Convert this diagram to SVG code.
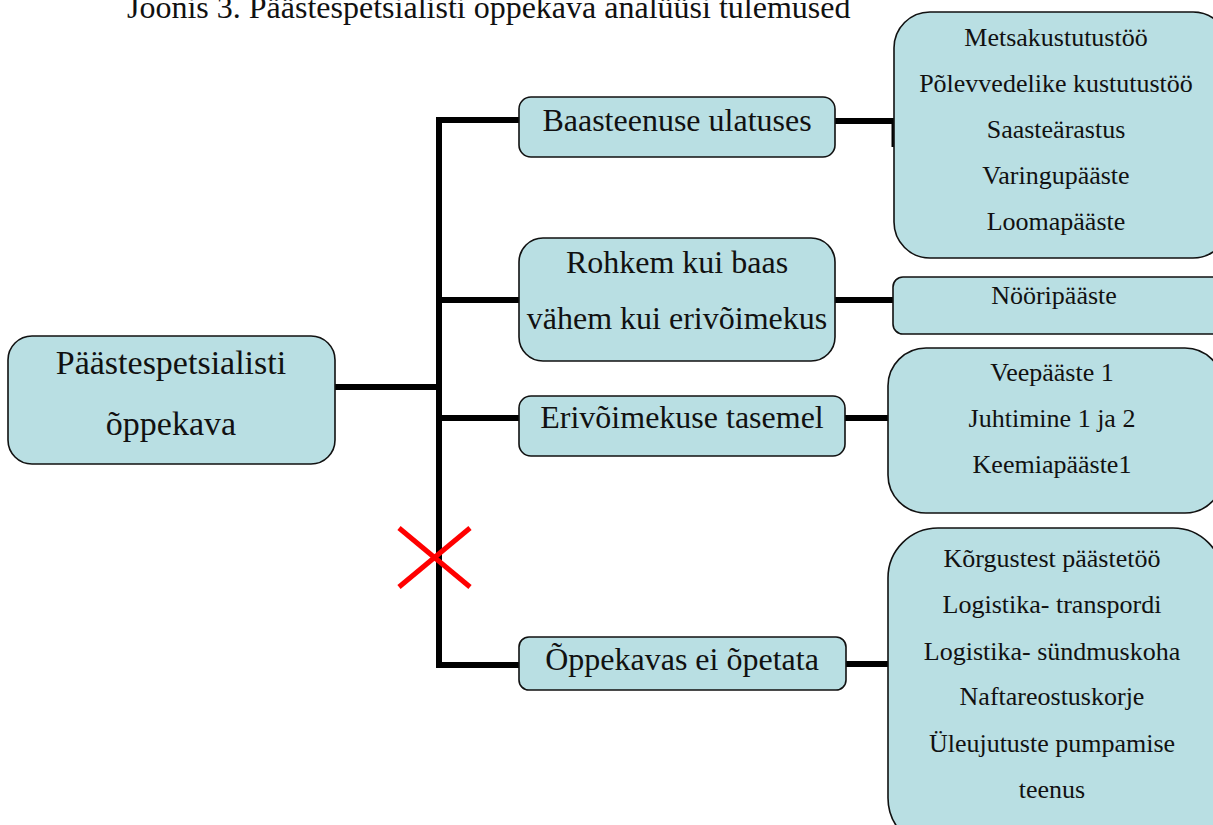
<svg xmlns="http://www.w3.org/2000/svg" width="1213" height="825" viewBox="0 0 1213 825">
<style>
.box{fill:#b9dfe3;stroke:#111;stroke-width:1.6}
.t{font-family:"Liberation Serif","Times New Roman",serif;fill:#111;text-anchor:middle}
.f34{font-size:34px}
.f32{font-size:32px}
.f26{font-size:26px}
.ln{stroke:#000;stroke-width:6;fill:none}
</style>
<rect width="1213" height="825" fill="#fff"/>
<text x="127" y="18" font-family="Liberation Serif, Times New Roman, serif" font-size="32" fill="#111">Joonis 3. Päästespetsialisti õppekava analüüsi tulemused</text>
<g id="connectors">
<polyline class="ln" points="519,120 439,120 439,665 519,665"/>
<line class="ln" x1="335" y1="387" x2="439" y2="387"/>
<line class="ln" x1="439" y1="300" x2="519" y2="300"/>
<line class="ln" x1="439" y1="418" x2="519" y2="418"/>
<line class="ln" x1="835" y1="121" x2="893" y2="121"/>
<line stroke="#000" stroke-width="3" x1="893" y1="118" x2="893" y2="147"/>
<line class="ln" x1="835" y1="300" x2="893" y2="300"/>
<line class="ln" x1="845" y1="418" x2="888" y2="418"/>
<line class="ln" x1="846" y1="664" x2="888" y2="664"/>
<g id="cross" stroke="#ff0000" stroke-width="5">
<line x1="399" y1="528" x2="470" y2="587"/>
<line x1="470" y1="528" x2="399" y2="587"/>
</g>
</g>
<g id="root">
<rect class="box" x="8" y="336" width="327" height="128" rx="24"/>
<text class="t f34" x="171" y="374">Päästespetsialisti</text>
<text class="t f34" x="171" y="435">õppekava</text>
</g>
<g id="baas">
<rect class="box" x="519" y="97" width="316" height="60" rx="12"/>
<text class="t f32" x="677" y="131">Baasteenuse ulatuses</text>
</g>
<g id="rohkem">
<rect class="box" x="519" y="238" width="316" height="123" rx="24"/>
<text class="t f32" x="677" y="273">Rohkem kui baas</text>
<text class="t f32" x="677" y="329">vähem kui erivõimekus</text>
</g>
<g id="erivoimekus">
<rect class="box" x="519" y="396" width="326" height="60" rx="12"/>
<text class="t f32" x="682" y="428">Erivõimekuse tasemel</text>
</g>
<g id="oppekavas">
<rect class="box" x="519" y="637" width="327" height="53" rx="10"/>
<text class="t f32" x="682" y="670">Õppekavas ei õpetata</text>
</g>
<g id="baas-list">
<rect class="box" x="894" y="12" width="335" height="246" rx="36"/>
<text class="t f26" x="1056" y="46">Metsakustutustöö</text>
<text class="t f26" x="1056" y="92">Põlevvedelike kustutustöö</text>
<text class="t f26" x="1056" y="138">Saasteärastus</text>
<text class="t f26" x="1056" y="184">Varingupääste</text>
<text class="t f26" x="1056" y="230">Loomapääste</text>
</g>
<g id="rohkem-list">
<rect class="box" x="893" y="277" width="330" height="57" rx="10"/>
<text class="t f26" x="1054" y="304">Nööripääste</text>
</g>
<g id="eri-list">
<rect class="box" x="888" y="348" width="335" height="165" rx="38"/>
<text class="t f26" x="1052" y="381">Veepääste 1</text>
<text class="t f26" x="1052" y="427">Juhtimine 1 ja 2</text>
<text class="t f26" x="1052" y="473">Keemiapääste1</text>
</g>
<g id="ei-list">
<rect class="box" x="888" y="528" width="335" height="320" rx="50"/>
<text class="t f26" x="1052" y="567">Kõrgustest päästetöö</text>
<text class="t f26" x="1052" y="613">Logistika- transpordi</text>
<text class="t f26" x="1052" y="660">Logistika- sündmuskoha</text>
<text class="t f26" x="1052" y="705">Naftareostuskorje</text>
<text class="t f26" x="1052" y="752">Üleujutuste pumpamise</text>
<text class="t f26" x="1052" y="798">teenus</text>
</g>
</svg>
